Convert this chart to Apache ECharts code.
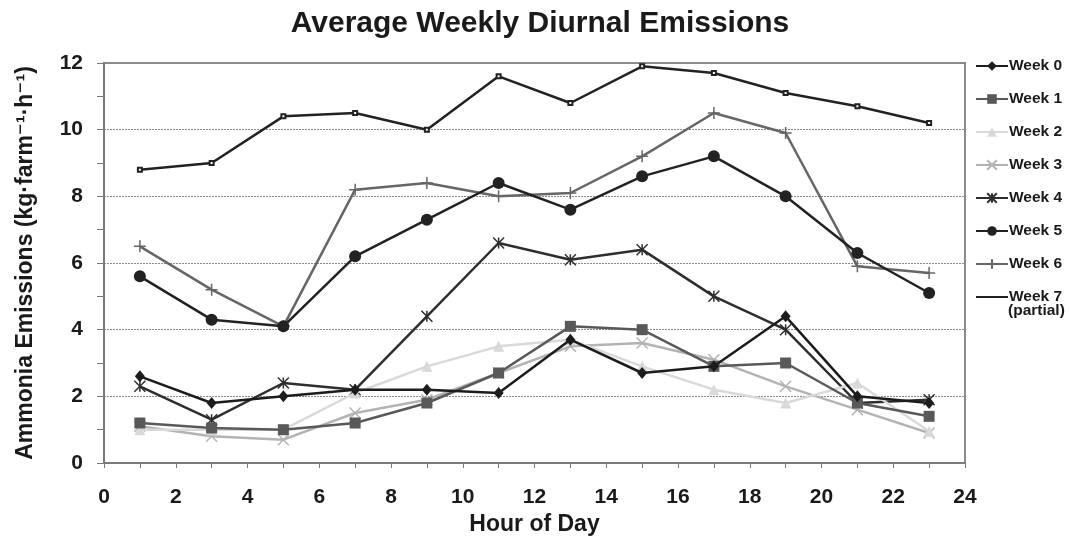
<!DOCTYPE html>
<html>
<head>
<meta charset="utf-8">
<script src="https://cdn.jsdelivr.net/npm/echarts@6/dist/echarts.min.js"></script>
<style>
html,body{margin:0;padding:0;background:#fff;}
#chart{width:1070px;height:537px;}
</style>
</head>
<body>
<div id="chart"></div>
<script>
const hours = [1, 3, 5, 7, 9, 11, 13, 15, 17, 19, 21, 23];
const seriesNames = ['Week 0', 'Week 1', 'Week 2', 'Week 3', 'Week 4', 'Week 5', 'Week 6', 'Week 7'];
const week0 = [2.6, 1.8, 2.0, 2.2, 2.2, 2.1, 3.7, 2.7, 2.9, 4.4, 2.0, 1.8];
const week1 = [1.2, 1.05, 1.0, 1.2, 1.8, 2.7, 4.1, 4.0, 2.9, 3.0, 1.8, 1.4];
const week2 = [1.0, 1.0, 1.0, 2.1, 2.9, 3.5, 3.7, 2.9, 2.2, 1.8, 2.4, 0.95];
const week3 = [1.1, 0.8, 0.7, 1.5, 1.9, 2.7, 3.5, 3.6, 3.1, 2.3, 1.6, 0.9];
const week4 = [2.3, 1.3, 2.4, 2.2, 4.4, 6.6, 6.1, 6.4, 5.0, 4.0, 1.8, 1.9];
const week5 = [5.6, 4.3, 4.1, 6.2, 7.3, 8.4, 7.6, 8.6, 9.2, 8.0, 6.3, 5.1];
const week6 = [6.5, 5.2, 4.1, 8.2, 8.4, 8.0, 8.1, 9.2, 10.5, 9.9, 5.9, 5.7];
const week7 = [8.8, 9.0, 10.4, 10.5, 10.0, 11.6, 10.8, 11.9, 11.7, 11.1, 10.7, 10.2];
const xTicks = [0, 2, 4, 6, 8, 10, 12, 14, 16, 18, 20, 22, 24];
const yTicks = [0, 2, 4, 6, 8, 10, 12];

const values = [week0, week1, week2, week3, week4, week5, week6, week7];
const colors = ['#1c1c1c', '#595959', '#d9d9d9', '#b3b3b3', '#2e2e2e', '#222222', '#666666', '#222222'];
const symbols = [
  'diamond', 'rect', 'triangle',
  'path://M0,0L10,10M10,0L0,10',
  'path://M0,0L10,10M10,0L0,10M5,0L5,10',
  'circle',
  'path://M5,0L5,10M0,5L10,5',
  'emptyRect'
];
const symbolSizes = [[10, 12], 11, 11, 11, 11, 12, 12, 4];
const stroked = [false, false, false, true, true, false, true, false];

const FONT = '"Liberation Sans", Arial, "DejaVu Sans", sans-serif';

const series = seriesNames.map((name, i) => ({
  name: name,
  type: 'line',
  data: hours.map((h, j) => [h, values[i][j]]),
  symbol: symbols[i],
  symbolSize: symbolSizes[i],
  showSymbol: true,
  z: 2 + (7 - i),
  lineStyle: { color: colors[i], width: 2.5 },
  itemStyle: stroked[i]
    ? { color: colors[i], borderColor: colors[i], borderWidth: 1.5 }
    : { color: colors[i], borderColor: colors[i], borderWidth: i === 7 ? 1 : 0 },
  emphasis: { disabled: true },
  animation: false
}));

const legendData = seriesNames.map((n, i) => i === 7
  ? { name: n, itemStyle: { opacity: 0 } }
  : { name: n });

const chart = echarts.init(document.getElementById('chart'), null, { renderer: 'canvas' });
chart.setOption({
  backgroundColor: '#ffffff',
  animation: false,
  title: {
    text: 'Average Weekly Diurnal Emissions',
    left: 535,
    textAlign: 'center',
    top: 4,
    textStyle: { fontFamily: FONT, fontWeight: 'bold', fontSize: 30, color: '#1a1a1a' }
  },
  legend: {
    orient: 'vertical',
    left: 970,
    top: 53,
    itemWidth: 32,
    itemHeight: 12,
    itemGap: 17,
    data: legendData,
    textStyle: { fontFamily: FONT, fontWeight: 'bold', fontSize: 15.5, color: '#1a1a1a', lineHeight: 16, padding: [0, 0, 0, -4] }
  },
  graphic: [{
    type: 'text',
    left: 1008,
    top: 303,
    style: { text: '(partial)', fontFamily: FONT, fontWeight: 'bold', fontSize: 15.5, fill: '#1a1a1a' }
  }],
  grid: {
    left: 104, right: 105, top: 63, bottom: 74,
    outerBoundsMode: 'none',
    containLabel: false,
    show: true, borderColor: '#8c8c8c', borderWidth: 2, backgroundColor: 'transparent'
  },
  xAxis: {
    type: 'value',
    min: xTicks[0], max: xTicks[xTicks.length - 1], interval: 2,
    name: 'Hour of Day',
    nameLocation: 'middle',
    nameGap: 49,
    nameTextStyle: { fontFamily: FONT, fontWeight: 'bold', fontSize: 23, color: '#1a1a1a' },
    axisLine: { show: true, lineStyle: { color: '#7a7a7a', width: 2 } },
    axisTick: { show: true, length: 5, lineStyle: { color: '#7a7a7a', width: 1 } },
    minorTick: { show: true, splitNumber: 2, length: 5, lineStyle: { color: '#7a7a7a', width: 1 } },
    axisLabel: { fontFamily: FONT, fontWeight: 'bold', fontSize: 21, color: '#1a1a1a', margin: 24 },
    splitLine: { show: false }
  },
  yAxis: {
    type: 'value',
    min: yTicks[0], max: yTicks[yTicks.length - 1], interval: 2,
    name: 'Ammonia Emissions (kg·farm⁻¹·h⁻¹)',
    nameLocation: 'middle',
    nameGap: 67,
    nameTextStyle: { fontFamily: FONT, fontWeight: 'bold', fontSize: 23, color: '#1a1a1a' },
    axisLine: { show: true, lineStyle: { color: '#7a7a7a', width: 2 } },
    axisTick: { show: true, length: 7, lineStyle: { color: '#7a7a7a', width: 1 } },
    minorTick: { show: true, splitNumber: 2, length: 7, lineStyle: { color: '#7a7a7a', width: 1 } },
    axisLabel: { fontFamily: FONT, fontWeight: 'bold', fontSize: 21, color: '#1a1a1a', margin: 21 },
    splitLine: { show: true, lineStyle: { color: '#8a8a8a', width: 1, type: [2, 1] } }
  },
  series: series
});
</script>
</body>
</html>
